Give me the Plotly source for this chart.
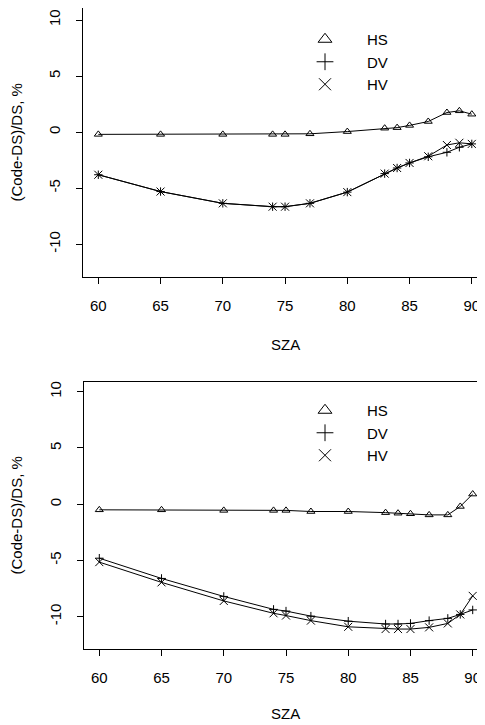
import plotly.graph_objects as go

# ---------------- data ----------------
sza = [60, 65, 70, 74, 75, 77, 80, 83, 84, 85, 86.5, 88, 89, 90]

top_hs = [-0.2, -0.2, -0.2, -0.2, -0.2, -0.15, 0.05, 0.35, 0.4, 0.6, 0.95, 1.75, 1.9, 1.6]
top_dv = [-3.8, -5.3, -6.35, -6.65, -6.65, -6.35, -5.35, -3.7, -3.2, -2.75, -2.2, -1.8, -1.35, -1.05]
top_hv = [-3.8, -5.3, -6.35, -6.65, -6.65, -6.35, -5.35, -3.7, -3.2, -2.75, -2.15, -1.15, -0.95, -1.05]

bot_hs = [-0.5, -0.5, -0.55, -0.55, -0.55, -0.65, -0.65, -0.75, -0.8, -0.85, -0.95, -0.95, -0.2, 0.9]
bot_dv = [-4.8, -6.6, -8.2, -9.35, -9.5, -9.95, -10.4, -10.65, -10.65, -10.6, -10.35, -10.15, -9.8, -9.4]
bot_hv = [-5.15, -6.95, -8.6, -9.7, -9.9, -10.35, -10.9, -11.1, -11.1, -11.1, -10.95, -10.6, -9.8, -8.15]

series_names = ["HS", "DV", "HV"]
x_ticks = [60, 65, 70, 75, 80, 85, 90]
y_ticks = [-10, -5, 0, 5, 10]

# ---------------- figure ----------------
OFF = 8            # page body margin
W, H = 477, 717    # figure size (page 485x725 minus body margin)
FONT = "Liberation Sans, Arial, Helvetica, sans-serif"


def px(xp):
    return (xp - OFF) / W


def py(yp):
    return (H - (yp - OFF)) / H


fig = go.Figure()

symbols = {"HS": ("triangle-up-open", 7), "DV": ("cross-thin-open", 6), "HV": ("x-thin-open", 8)}

panels = [
    ("x", "y", "legend", [top_hs, top_dv, top_hv]),
    ("x2", "y2", "legend2", [bot_hs, bot_dv, bot_hv]),
]
for xa, ya, lg, vals in panels:
    for name, v in zip(series_names, vals):
        fig.add_trace(go.Scatter(x=sza, y=v, xaxis=xa, yaxis=ya, mode="lines",
                                 line=dict(color="black", width=1), showlegend=False,
                                 hoverinfo="skip"))
    for name, v in zip(series_names, vals):
        sym, sz = symbols[name]
        fig.add_trace(go.Scatter(x=sza, y=v, xaxis=xa, yaxis=ya, mode="markers", name=name,
                                 legend=lg,
                                 marker=dict(symbol=sym, size=sz, color="black",
                                             line=dict(color="black", width=0))))

axis_font = dict(family=FONT, size=15, color="black")


def xaxis(domain, rng, anchor):
    return dict(domain=domain, range=rng, anchor=anchor, tickmode="array", tickvals=x_ticks,
                ticks="outside", ticklen=6, tickwidth=1, tickcolor="black",
                showline=True, linecolor="black", linewidth=1, mirror=True,
                showgrid=False, zeroline=False, tickfont=axis_font,
                ticklabelstandoff=9)


def yaxis(domain, rng, anchor):
    return dict(domain=domain, range=rng, anchor=anchor, tickmode="array", tickvals=y_ticks,
                ticktext=[str(t) for t in y_ticks],
                ticks="outside", ticklen=6, tickwidth=1, tickcolor="black",
                showline=True, linecolor="black", linewidth=1, mirror=False,
                showgrid=False, zeroline=False, tickfont=axis_font, tickangle=-90,
                ticklabelstandoff=10)


fig.update_layout(
    width=W, height=H,
    margin=dict(l=0, r=0, t=0, b=0),
    paper_bgcolor="white", plot_bgcolor="white",
    font=dict(family=FONT, size=15, color="black"),
    xaxis=xaxis([px(83), 1], [58.77, 58.77 + (W - (83 - OFF)) / 12.45], "y"),
    yaxis=yaxis([py(277), py(8)], [-12.92, 11.07], "x"),
    xaxis2=xaxis([px(84.3), 1], [58.795, 58.795 + (W - (84.3 - OFF)) / 12.447], "y2"),
    yaxis2=yaxis([py(649.3), py(381.7)], [-12.9, 10.89], "x2"),
    legend=dict(x=px(283), y=py(23), xanchor="left", yanchor="top",
                itemsizing="constant", itemwidth=74, bgcolor="rgba(0,0,0,0)",
                font=dict(family=FONT, size=15, color="black")),
    legend2=dict(x=px(283), y=py(394), xanchor="left", yanchor="top",
                 itemsizing="constant", itemwidth=74, bgcolor="rgba(0,0,0,0)",
                 font=dict(family=FONT, size=15, color="black")),
    showlegend=True,
)

for ycen, ysza in [(142.5, 345), (515.5, 713.3)]:
    fig.add_annotation(text="(Code-DS)/DS, %", x=px(16), y=py(ycen), xref="paper", yref="paper",
                       showarrow=False, textangle=-90, font=axis_font, xanchor="center", yanchor="middle")
    fig.add_annotation(text="SZA", x=px(285), y=py(ysza), xref="paper", yref="paper",
                       showarrow=False, font=axis_font, xanchor="center", yanchor="middle")

fig.write_html("out.html")
